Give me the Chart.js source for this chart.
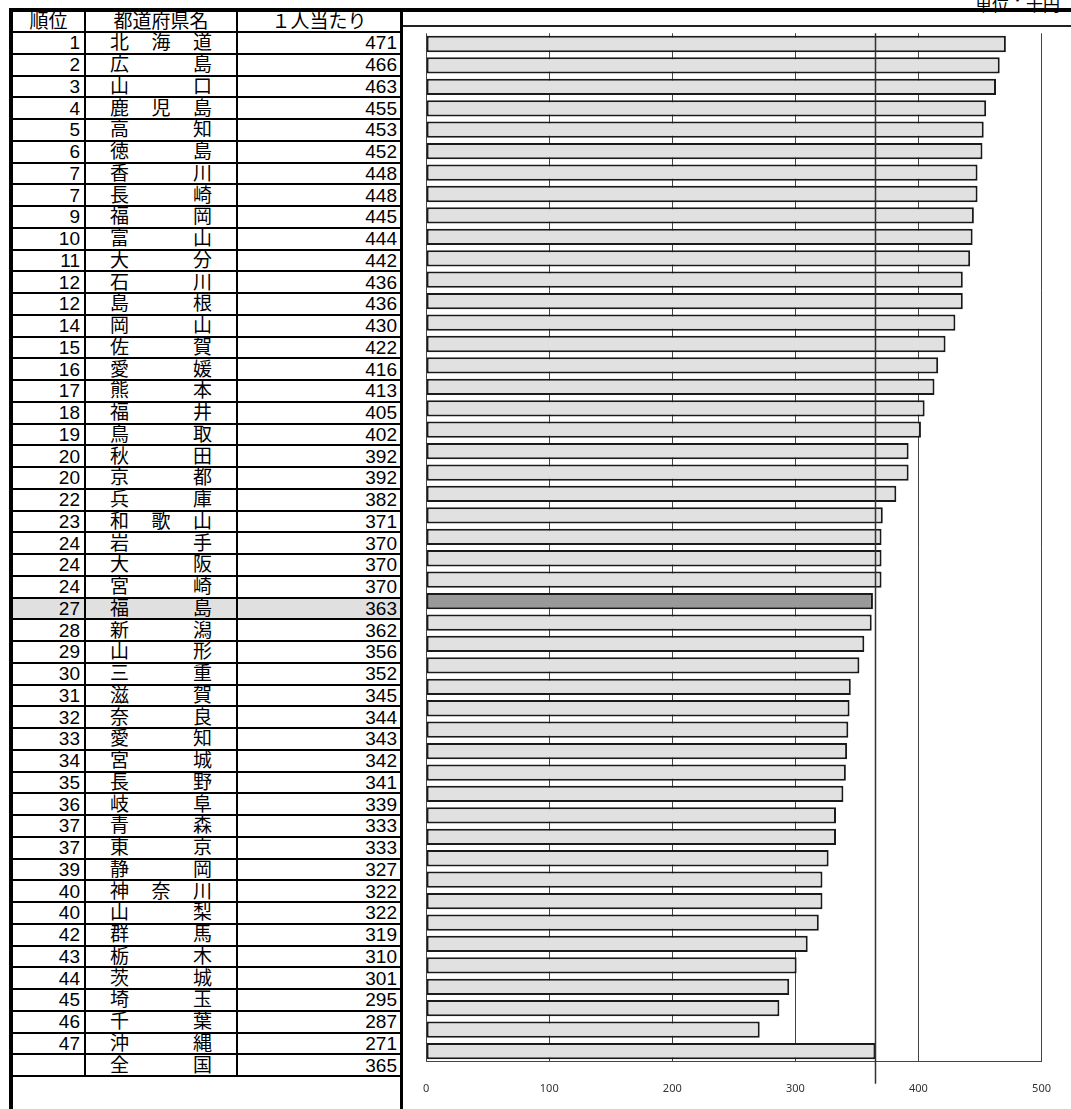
<!DOCTYPE html>
<html lang="ja">
<head>
<meta charset="utf-8">
<script src="https://cdn.jsdelivr.net/npm/chart.js@4.4.1/dist/chart.umd.min.js"></script>
<style>
    body { margin: 0; width: 1071px; height: 1109px; overflow: hidden; background: #fff;
           font-family: "Liberation Sans", Arial, "Noto Sans CJK JP", sans-serif; }
    #topLine { position: absolute; left: 9px; top: 8px; width: 1062px; height: 4px; background: #000; }
    #unit { position: absolute; left: 975px; top: -9px; font-size: 17px; white-space: nowrap; color: #000; }
    #table { position: absolute; left: 9px; top: 12px; width: 387px; height: 1097px;
             border-left: 4px solid #000; border-right: 3px solid #000; }
    .row { position: absolute; left: 0; width: 387px; display: flex; box-sizing: border-box;
           border-bottom: 2px solid #000; font-size: 19px; line-height: 19px; }
    .row > div { box-sizing: border-box; display: flex; align-items: center; height: 100%; }
    .c1 { width: 73px; border-right: 2px solid #000; justify-content: flex-end; padding-right: 4px; }
    .c2 { width: 152px; border-right: 2px solid #000; justify-content: space-between; padding: 0 24px 0 24px; }
    .c3 { width: 162px; justify-content: flex-end; padding-right: 3px; }
    .head .c1, .head .c2, .head .c3 { justify-content: center; padding: 0; }
    .hl { background: #e0e0e0; }
    #chartLine { position: absolute; left: 403px; top: 25px; width: 668px; height: 1.5px; background: #222; }
    #chartBox { position: absolute; left: 403px; top: 27px; width: 668px; height: 1088px; }
</style>
</head>
<body>
<div id="topLine"></div>
<div id="unit">単位：千円</div>
<div id="table"></div>
<div id="chartLine"></div>
<div id="chartBox"><canvas id="chart"></canvas></div>

<script>
const ranks = [1, 2, 3, 4, 5, 6, 7, 7, 9, 10, 11, 12, 12, 14, 15, 16, 17, 18, 19, 20, 20, 22, 23, 24,
    24, 24, 27, 28, 29, 30, 31, 32, 33, 34, 35, 36, 37, 37, 39, 40, 40, 42, 43, 44, 45, 46, 47, ""];
const prefectures = ["北海道", "広島", "山口", "鹿児島", "高知", "徳島", "香川", "長崎", "福岡", "富山",
    "大分", "石川", "島根", "岡山", "佐賀", "愛媛", "熊本", "福井", "鳥取", "秋田", "京都", "兵庫",
    "和歌山", "岩手", "大阪", "宮崎", "福島", "新潟", "山形", "三重", "滋賀", "奈良", "愛知", "宮城",
    "長野", "岐阜", "青森", "東京", "静岡", "神奈川", "山梨", "群馬", "栃木", "茨城", "埼玉", "千葉",
    "沖縄", "全国"];
const perPerson = [471, 466, 463, 455, 453, 452, 448, 448, 445, 444, 442, 436, 436, 430, 422, 416,
    413, 405, 402, 392, 392, 382, 371, 370, 370, 370, 363, 362, 356, 352, 345, 344, 343, 342, 341,
    339, 333, 333, 327, 322, 322, 319, 310, 301, 295, 287, 271, 365];
const headers = ["順位", "都道府県名", "１人当たり"];
const xTicks = [0, 100, 200, 300, 400, 500];
const highlight = "福島";
const nationalName = "全国";

// left-hand table
const table = document.getElementById("table");
const headRow = document.createElement("div");
headRow.className = "row head";
headRow.style.top = "0px";
headRow.style.height = "21px";
headers.forEach((h, i) => {
    const cell = document.createElement("div");
    cell.className = "c" + (i + 1);
    cell.textContent = h;
    headRow.appendChild(cell);
});
table.appendChild(headRow);

const rowPitch = 21.75;
prefectures.forEach((name, i) => {
    const row = document.createElement("div");
    row.className = "row" + (name === highlight ? " hl" : "");
    row.style.top = (21 + i * rowPitch) + "px";
    row.style.height = rowPitch + "px";
    const c1 = document.createElement("div");
    c1.className = "c1";
    c1.textContent = ranks[i];
    const c2 = document.createElement("div");
    c2.className = "c2";
    name.split("").forEach(ch => {
        const s = document.createElement("span");
        s.textContent = ch;
        c2.appendChild(s);
    });
    const c3 = document.createElement("div");
    c3.className = "c3";
    c3.textContent = perPerson[i];
    row.append(c1, c2, c3);
    table.appendChild(row);
});

// national average line drawn over the bars
const nationalValue = perPerson[prefectures.indexOf(nationalName)];
const averageLine = {
    id: "averageLine",
    afterDatasetsDraw(chart) {
        const { ctx, chartArea, scales } = chart;
        const x = Math.round(scales.x.getPixelForValue(nationalValue)) + 0.5;
        ctx.save();
        ctx.strokeStyle = "#333";
        ctx.lineWidth = 1.5;
        ctx.beginPath();
        ctx.moveTo(x, chartArea.top);
        ctx.lineTo(x, chartArea.bottom + 22);
        ctx.stroke();
        ctx.restore();
    }
};

new Chart(document.getElementById("chart").getContext("2d"), {
    type: "bar",
    data: {
        labels: prefectures,
        datasets: [{
            data: perPerson,
            backgroundColor: prefectures.map(p => p === highlight ? "#999999" : "#e1e1e1"),
            borderColor: "#1a1a1a",
            borderWidth: 2,
            borderSkipped: false,
            categoryPercentage: 1,
            barPercentage: 0.76
        }]
    },
    options: {
        indexAxis: "y",
        responsive: true,
        maintainAspectRatio: false,
        animation: false,
        layout: { padding: { left: 21.5, right: 21, top: 6.3, bottom: 0 } },
        plugins: { legend: { display: false }, tooltip: { enabled: false } },
        scales: {
            y: { display: false },
            x: {
                min: 0,
                max: 500,
                afterBuildTicks: axis => { axis.ticks = xTicks.map(v => ({ value: v })); },
                grid: { color: "#444", lineWidth: 1, drawTicks: false },
                border: { display: true, color: "#444", width: 1 },
                ticks: {
                    padding: 20,
                    color: "#333",
                    font: { family: "'Noto Sans', sans-serif", size: 11 },
                    maxRotation: 0
                }
            }
        }
    },
    plugins: [averageLine]
});
</script>
</body>
</html>
